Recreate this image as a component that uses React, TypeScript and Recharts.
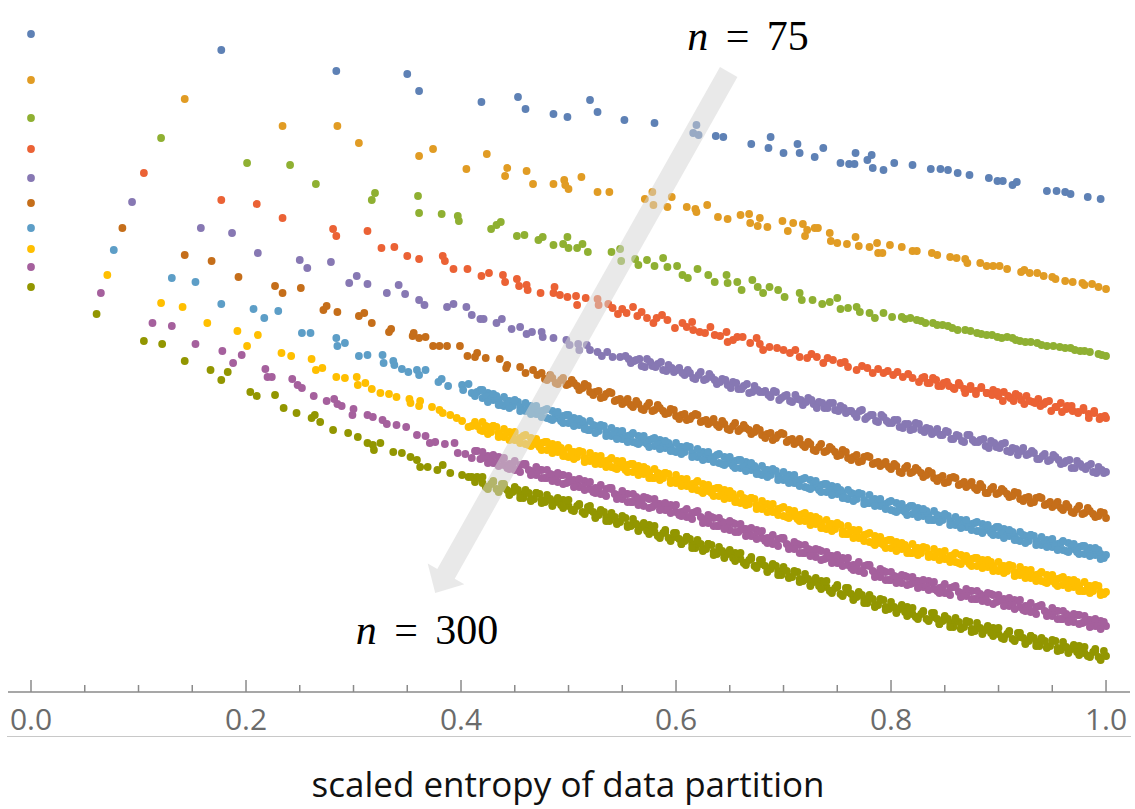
import React from 'react';
import { ScatterChart, Scatter, XAxis, YAxis, ReferenceLine } from 'recharts';

type Pt = [number, number];

const xTicks = [0, 0.05, 0.1, 0.15, 0.2, 0.25, 0.3, 0.35, 0.4, 0.45, 0.5, 0.55, 0.6, 0.65, 0.7, 0.75, 0.8, 0.85, 0.9, 0.95, 1];
const xDomain: [number, number] = [-0.0214, 1.0223];
const yDomain: [number, number] = [0, 69.2];

const seriesNames = ['n=75', 'n=100', 'n=125', 'n=150', 'n=175', 'n=200', 'n=225', 'n=250', 'n=275', 'n=300'];
const colors = ['#5E81B5', '#E19C24', '#8FB032', '#EB6235', '#8778B3', '#C56E1A', '#5D9EC7', '#FFBF00', '#A5609D', '#929600'];

// arrow annotation: tail and tip in data units
const arrowTail: Pt = [0.649, 62.0];
const arrowTip: Pt = [0.376, 9.9];

const n75: Pt[] = [
  [0, 65.8], [0.177, 64.2], [0.284, 62.1], [0.350, 61.8], [0.361, 60.1], [0.419, 59.0], [0.453, 59.5], [0.460, 58.3],
  [0.486, 57.8], [0.499, 57.5], [0.520, 59.2], [0.527, 58.0], [0.552, 57.2], [0.580, 56.9], [0.616, 55.9], [0.619, 56.7],
  [0.621, 55.7], [0.637, 55.6], [0.644, 55.5], [0.670, 54.8], [0.686, 54.4], [0.688, 55.5], [0.700, 53.9], [0.713, 54.8],
  [0.715, 53.9], [0.729, 53.5], [0.737, 54.4], [0.753, 52.9], [0.761, 52.8], [0.766, 52.8], [0.767, 53.9], [0.778, 53.2],
  [0.782, 53.7], [0.783, 52.4], [0.793, 52.2], [0.803, 52.9], [0.820, 52.7], [0.837, 52.3], [0.846, 52.3], [0.853, 52.2],
  [0.862, 51.9], [0.873, 51.7], [0.891, 51.4], [0.899, 51.1], [0.904, 51.1], [0.913, 50.7], [0.917, 51.0], [0.945, 50.1],
  [0.954, 50.1], [0.962, 50.0], [0.967, 49.8], [0.983, 49.5], [0.995, 49.3],
];

const n100: Pt[] = [
  [0, 61.2], [0.143, 59.3], [0.234, 56.6], [0.285, 56.6], [0.305, 54.9], [0.361, 53.6], [0.374, 54.3], [0.405, 52.3],
  [0.424, 53.8], [0.441, 51.6], [0.443, 52.4], [0.461, 52.1], [0.467, 50.8], [0.486, 50.8], [0.496, 51.2], [0.497, 50.7],
  [0.500, 50.3], [0.512, 51.5], [0.527, 50.0], [0.538, 50.0], [0.571, 49.3], [0.578, 50.0], [0.579, 48.7], [0.592, 48.5],
  [0.596, 49.5], [0.610, 48.5], [0.618, 48.3], [0.619, 48.0], [0.629, 48.7], [0.639, 47.5], [0.648, 47.3], [0.660, 47.7],
  [0.668, 47.8], [0.669, 46.9], [0.676, 46.6], [0.678, 47.4], [0.685, 46.5], [0.699, 47.1], [0.704, 46.1], [0.709, 46.9],
  [0.718, 46.8], [0.720, 45.6], [0.722, 46.2], [0.729, 46.4], [0.732, 46.4], [0.743, 45.9], [0.744, 45.1], [0.750, 44.9],
  [0.759, 44.8], [0.767, 45.5], [0.770, 44.6], [0.780, 44.5], [0.787, 44.9], [0.788, 43.9], [0.792, 43.9], [0.799, 44.7],
  [0.810, 44.5], [0.820, 44.1], [0.824, 44.1], [0.838, 43.9], [0.843, 43.7], [0.855, 43.5], [0.861, 43.4], [0.869, 43.3],
  [0.871, 42.9], [0.883, 42.9], [0.889, 42.6], [0.895, 42.6], [0.901, 42.6], [0.908, 42.3], [0.921, 42.0], [0.924, 42.2],
  [0.929, 41.9], [0.936, 41.9], [0.942, 41.6], [0.950, 41.5], [0.953, 41.3], [0.962, 41.1], [0.969, 41.0], [0.978, 40.9],
  [0.980, 40.7], [0.987, 40.8], [0.993, 40.5], [1.0, 40.3],
];

const n125: Pt[] = [
  [0, 57.4], [0.121, 55.4], [0.201, 52.9], [0.241, 52.7], [0.265, 50.8], [0.317, 49.2], [0.320, 49.9], [0.360, 49.6],
  [0.361, 47.9], [0.382, 47.8], [0.397, 47.6], [0.398, 47.1], [0.428, 46.3], [0.433, 46.7], [0.437, 47.0], [0.452, 45.6],
  [0.459, 45.7], [0.472, 45.2], [0.476, 45.5], [0.486, 44.7], [0.495, 44.8], [0.499, 45.5], [0.500, 44.4], [0.508, 44.4],
  [0.513, 44.8], [0.518, 44.0], [0.540, 44.0], [0.548, 44.3], [0.549, 43.1], [0.562, 43.3], [0.565, 42.7], [0.573, 43.2],
  [0.580, 42.6], [0.588, 43.4], [0.592, 42.5], [0.601, 42.6], [0.606, 41.7], [0.611, 41.4], [0.620, 42.3], [0.630, 41.7],
  [0.636, 41.0], [0.647, 41.7], [0.648, 40.9], [0.657, 41.0], [0.661, 40.2], [0.671, 41.2], [0.676, 40.5], [0.681, 39.9],
  [0.687, 40.5], [0.695, 40.2], [0.701, 39.5], [0.715, 39.9], [0.717, 39.2], [0.727, 39.2], [0.736, 38.8], [0.743, 39.0],
  [0.750, 39.4], [0.753, 38.3], [0.760, 38.4], [0.768, 38.5], [0.771, 38.0], [0.780, 37.9], [0.785, 37.4], [0.793, 37.9],
  [0.801, 37.5], [0.810, 37.5], [0.813, 37.3], [0.818, 37.4], [0.824, 37.2], [0.828, 37.1], [0.832, 36.9], [0.839, 36.9],
  [0.843, 36.7], [0.848, 36.7], [0.853, 36.6], [0.857, 36.4], [0.862, 36.2], [0.869, 36.2], [0.874, 36.1], [0.880, 35.9],
  [0.884, 35.8], [0.889, 35.7], [0.894, 35.7], [0.899, 35.5], [0.903, 35.4], [0.908, 35.5], [0.913, 35.4], [0.916, 35.2],
  [0.920, 35.1], [0.925, 35.0], [0.930, 35.0], [0.936, 34.9], [0.940, 34.7], [0.945, 34.6], [0.951, 34.6], [0.957, 34.5],
  [0.962, 34.4], [0.967, 34.4], [0.971, 34.2], [0.976, 34.1], [0.980, 34.1], [0.985, 34.0], [0.993, 33.8], [0.996, 33.7],
  [1.0, 33.6],
];

const n150: Pt[] = [
  [0, 54.3], [0.105, 51.9], [0.177, 49.2], [0.210, 48.8], [0.234, 47.4], [0.281, 46.3], [0.284, 45.6], [0.313, 46.1],
  [0.326, 44.4], [0.338, 44.5], [0.350, 43.6], [0.361, 43.3], [0.383, 43.6], [0.385, 43.1], [0.393, 42.3], [0.406, 42.3],
  [0.419, 41.6], [0.426, 41.9], [0.439, 41.7], [0.441, 41.0], [0.452, 41.3], [0.454, 40.6], [0.461, 40.7], [0.462, 40.2],
  [0.474, 39.9], [0.487, 40.5], [0.486, 39.9], [0.492, 39.7], [0.499, 39.5], [0.507, 39.6], [0.508, 38.7], [0.516, 39.4],
  [0.527, 39.3], [0.528, 38.7], [0.537, 38.8], [0.541, 38.4], [0.546, 37.8], [0.550, 38.3], [0.554, 37.9], [0.560, 38.5],
  [0.564, 37.6], [0.568, 38.0], [0.573, 37.4], [0.579, 36.9], [0.582, 37.4], [0.587, 37.7], [0.592, 37.2], [0.599, 36.4],
  [0.606, 36.9], [0.610, 36.5], [0.615, 37.0], [0.616, 36.2], [0.622, 36.0], [0.627, 35.9], [0.632, 36.5], [0.636, 35.7],
  [0.641, 35.6], [0.647, 36.0], [0.648, 35.0], [0.653, 35.2], [0.657, 35.5], [0.662, 35.5], [0.669, 34.9], [0.675, 35.4],
  [0.678, 34.8], [0.681, 34.2], [0.687, 34.5], [0.694, 34.4], [0.700, 34.2], [0.706, 33.9], [0.711, 34.2], [0.715, 33.5],
  [0.722, 33.4], [0.726, 33.8], [0.731, 33.5], [0.737, 32.9], [0.741, 33.4], [0.746, 33.2], [0.753, 32.9], [0.757, 33.0],
  [0.760, 32.5], [0.768, 32.2], [0.773, 32.6], [0.778, 32.4], [0.783, 31.9], [0.788, 32.3], [0.793, 31.9], [0.797, 32.1],
  [0.802, 31.7], [0.806, 32.0], [0.811, 31.5], [0.816, 31.8], [0.820, 31.4], [0.826, 31.0], [0.831, 31.5], [0.836, 30.9],
  [0.842, 31.2], [0.847, 30.6], [0.852, 31.0], [0.858, 30.4], [0.863, 30.9], [0.868, 30.3], [0.874, 30.6], [0.879, 30.1],
  [0.884, 30.5], [0.889, 29.9], [0.895, 30.2], [0.900, 29.6], [0.905, 30.0], [0.911, 29.4], [0.916, 29.8], [0.921, 29.2],
  [0.926, 29.6], [0.932, 29.0], [0.937, 29.3], [0.942, 28.8], [0.947, 29.1], [0.953, 28.5], [0.958, 28.9], [0.963, 28.3],
  [0.968, 28.6], [0.974, 28.0], [0.979, 28.4], [0.984, 27.8], [0.989, 28.1], [0.995, 27.5], [1.0, 27.4],
];

const n150b: Pt[] = [
  [0.829, 31.4], [0.834, 30.9], [0.839, 31.4], [0.844, 30.6], [0.849, 30.9], [0.854, 30.6], [0.859, 30.3], [0.864, 30.7],
  [0.869, 29.9], [0.874, 30.3], [0.879, 29.8], [0.884, 30.4], [0.889, 29.9], [0.894, 29.7], [0.899, 30.0], [0.904, 29.1],
  [0.909, 29.6], [0.914, 29.1], [0.919, 29.6], [0.924, 28.8], [0.929, 29.1], [0.934, 28.9], [0.939, 28.6], [0.944, 29.0],
  [0.949, 28.1], [0.954, 28.5], [0.959, 28.0], [0.964, 28.6], [0.969, 28.1], [0.974, 27.9], [0.979, 28.2], [0.984, 27.4],
  [0.989, 27.9], [0.994, 27.3], [0.999, 27.6],
];

const n175: Pt[] = [
  [0, 51.4], [0.094, 49.0], [0.158, 46.4], [0.187, 45.9], [0.211, 43.9], [0.250, 43.2], [0.257, 42.4], [0.279, 43.0],
  [0.296, 40.9], [0.303, 41.6], [0.313, 40.8], [0.331, 39.9], [0.342, 40.7], [0.348, 39.8], [0.361, 39.2], [0.366, 38.7],
  [0.387, 38.5], [0.393, 38.8], [0.405, 38.5], [0.410, 37.7], [0.418, 37.3], [0.421, 37.3], [0.433, 36.9], [0.438, 37.3],
  [0.447, 36.3], [0.455, 36.5], [0.461, 35.8], [0.466, 36.0], [0.475, 36.0], [0.476, 35.5], [0.486, 35.4], [0.498, 35.2],
  [0.501, 34.7], [0.509, 34.8], [0.510, 34.2], [0.517, 34.7], [0.520, 34.2], [0.527, 34.0], [0.531, 33.6], [0.536, 34.0],
  [0.541, 33.5], [0.548, 33.5], [0.553, 33.6], [0.558, 32.9], [0.563, 33.2], [0.568, 32.6], [0.573, 33.3], [0.578, 32.6],
  [0.583, 32.8], [0.588, 32.2], [0.593, 32.7], [0.598, 32.0], [0.603, 32.4], [0.608, 31.7], [0.613, 31.9], [0.618, 31.3],
  [0.623, 32.0], [0.628, 31.3], [0.633, 31.5], [0.638, 30.8], [0.643, 31.3], [0.648, 30.7], [0.653, 31.0], [0.658, 30.3],
  [0.663, 30.6], [0.668, 29.9], [0.673, 30.6], [0.678, 30.0], [0.683, 30.1], [0.688, 29.5], [0.693, 30.0], [0.698, 29.4],
  [0.703, 29.7], [0.708, 29.0], [0.713, 29.3], [0.718, 28.7], [0.723, 29.4], [0.728, 28.8], [0.733, 29.0], [0.738, 28.4],
  [0.743, 28.9], [0.748, 28.2], [0.753, 28.6], [0.758, 27.9], [0.763, 28.1], [0.768, 27.5], [0.773, 28.2], [0.778, 27.5],
  [0.783, 27.7], [0.788, 27.0], [0.793, 27.5], [0.798, 26.9], [0.803, 27.2], [0.808, 26.5], [0.813, 26.8], [0.818, 26.2],
  [0.823, 26.9], [0.828, 26.2], [0.833, 26.4], [0.838, 25.8], [0.843, 26.3], [0.848, 25.7], [0.853, 26.0], [0.858, 25.3],
  [0.863, 25.6], [0.868, 25.0], [0.873, 25.7], [0.878, 25.0], [0.883, 25.2], [0.888, 24.6], [0.893, 25.1], [0.898, 24.5],
  [0.903, 24.8], [0.908, 24.1], [0.913, 24.4], [0.918, 23.7], [0.923, 24.4], [0.928, 23.8], [0.933, 23.9], [0.938, 23.3],
  [0.943, 23.8], [0.948, 23.2], [0.953, 23.5], [0.958, 22.8], [0.963, 23.1], [0.968, 22.4], [0.973, 23.1], [0.978, 22.5],
  [0.983, 22.6], [0.988, 22.0], [0.993, 22.5], [0.998, 21.9], [1.0, 22.0],
];

const n175b: Pt[] = [
  [0.556, 33.3], [0.561, 33.1], [0.566, 33.3], [0.571, 32.5], [0.576, 33.0], [0.581, 32.5], [0.586, 33.0], [0.591, 32.1],
  [0.596, 32.4], [0.601, 32.2], [0.606, 31.9], [0.611, 32.2], [0.616, 31.4], [0.621, 31.7], [0.626, 31.2], [0.631, 31.8],
  [0.636, 31.2], [0.641, 31.0], [0.646, 31.2], [0.651, 30.4], [0.656, 30.9], [0.661, 30.3], [0.666, 30.8], [0.671, 30.0],
  [0.676, 30.2], [0.681, 30.0], [0.686, 29.7], [0.691, 30.1], [0.696, 29.2], [0.701, 29.6], [0.706, 29.1], [0.711, 29.7],
  [0.716, 29.2], [0.721, 29.0], [0.726, 29.2], [0.731, 28.4], [0.736, 28.9], [0.741, 28.4], [0.746, 28.9], [0.751, 28.1],
  [0.756, 28.4], [0.761, 28.1], [0.766, 27.8], [0.771, 28.1], [0.776, 27.3], [0.781, 27.7], [0.786, 27.1], [0.791, 27.7],
  [0.796, 27.1], [0.801, 26.9], [0.806, 27.2], [0.811, 26.4], [0.816, 26.8], [0.821, 26.3], [0.826, 26.8], [0.831, 26.0],
  [0.836, 26.3], [0.841, 26.0], [0.846, 25.7], [0.851, 26.1], [0.856, 25.3], [0.861, 25.7], [0.866, 25.1], [0.871, 25.7],
  [0.876, 25.2], [0.881, 25.0], [0.886, 25.3], [0.891, 24.4], [0.896, 24.9], [0.901, 24.4], [0.906, 24.9], [0.911, 24.0],
  [0.916, 24.3], [0.921, 24.1], [0.926, 23.7], [0.931, 24.1], [0.936, 23.3], [0.941, 23.6], [0.946, 23.1], [0.951, 23.7],
  [0.956, 23.2], [0.961, 22.9], [0.966, 23.2], [0.971, 22.4], [0.976, 22.8], [0.981, 22.3], [0.986, 22.8], [0.991, 21.9],
  [0.996, 22.2],
];

const n200: Pt[] = [
  [0, 48.9], [0.085, 46.4], [0.143, 43.7], [0.168, 43.1], [0.193, 41.5], [0.227, 40.6], [0.234, 39.9], [0.251, 40.4],
  [0.272, 38.2], [0.275, 38.6], [0.285, 38.0], [0.305, 37.6], [0.310, 37.9], [0.317, 36.9], [0.333, 36.0], [0.335, 36.3],
  [0.355, 35.6], [0.356, 35.9], [0.361, 35.4], [0.367, 35.5], [0.374, 34.6], [0.380, 34.6], [0.387, 34.6], [0.399, 34.6],
  [0.406, 33.6], [0.415, 33.9], [0.413, 33.5], [0.423, 33.4], [0.436, 33.3], [0.443, 32.7], [0.442, 32.4], [0.455, 32.5],
  [0.460, 31.9], [0.467, 32.2], [0.471, 31.7],
  [0.475, 31.9], [0.480, 31.2], [0.485, 31.4], [0.490, 30.8], [0.495, 31.4], [0.500, 30.8], [0.505, 30.9], [0.510, 30.2],
  [0.515, 30.8], [0.520, 30.0], [0.525, 30.0], [0.530, 29.4], [0.535, 29.8], [0.540, 29.9], [0.545, 29.2], [0.550, 28.8],
  [0.555, 29.3], [0.560, 28.5], [0.565, 28.8], [0.570, 28.2], [0.575, 28.9], [0.580, 28.2], [0.585, 28.4], [0.590, 27.8],
  [0.595, 28.3], [0.600, 27.6], [0.605, 27.7], [0.610, 27.2], [0.615, 27.6], [0.620, 27.7], [0.625, 27.1], [0.630, 26.8],
  [0.635, 27.3], [0.640, 26.5], [0.645, 26.8], [0.650, 26.2], [0.655, 26.9], [0.660, 26.3], [0.665, 26.4], [0.670, 25.8],
  [0.675, 26.4], [0.680, 25.7], [0.685, 25.8], [0.690, 25.2], [0.695, 25.7], [0.700, 25.8], [0.705, 25.2], [0.710, 24.8],
  [0.715, 25.3], [0.720, 24.5], [0.725, 24.8], [0.730, 24.1], [0.735, 24.8], [0.740, 24.1], [0.745, 24.3], [0.750, 23.6],
  [0.755, 24.2], [0.760, 23.4], [0.765, 23.5], [0.770, 23.0], [0.775, 23.5], [0.780, 23.5], [0.785, 22.9], [0.790, 22.6],
  [0.795, 23.0], [0.800, 22.3], [0.805, 22.6], [0.810, 21.9], [0.815, 22.6], [0.820, 22.0], [0.825, 22.2], [0.830, 21.5],
  [0.835, 22.1], [0.840, 21.4], [0.845, 21.4], [0.850, 20.9], [0.855, 21.4], [0.860, 21.4], [0.865, 20.8], [0.870, 20.5],
  [0.875, 21.0], [0.880, 20.2], [0.885, 20.5], [0.890, 19.9], [0.895, 20.5], [0.900, 19.9], [0.905, 20.1], [0.910, 19.5],
  [0.915, 20.0], [0.920, 19.3], [0.925, 19.4], [0.930, 18.9], [0.935, 19.4], [0.940, 19.4], [0.945, 18.8], [0.950, 18.5],
  [0.955, 19.0], [0.960, 18.2], [0.965, 18.5], [0.970, 17.9], [0.975, 18.6], [0.980, 17.9], [0.985, 18.1], [0.990, 17.5],
  [0.995, 18.0], [1.0, 17.4],
];

const n200b: Pt[] = [
  [0.478, 31.3], [0.483, 31.7], [0.488, 30.9], [0.493, 31.2], [0.498, 30.7], [0.503, 31.2], [0.508, 30.6], [0.513, 30.4],
  [0.518, 30.6], [0.523, 29.7], [0.528, 30.1], [0.533, 29.5], [0.538, 30.0], [0.543, 29.1], [0.548, 29.3], [0.553, 29.0],
  [0.558, 28.7], [0.563, 29.1], [0.568, 28.3], [0.573, 28.6], [0.578, 28.1], [0.583, 28.7], [0.588, 28.1], [0.593, 27.9],
  [0.598, 28.2], [0.603, 27.3], [0.608, 27.8], [0.613, 27.3], [0.618, 27.8], [0.623, 27.0], [0.628, 27.2], [0.633, 27.0],
  [0.638, 26.7], [0.643, 27.1], [0.648, 26.3], [0.653, 26.6], [0.658, 26.1], [0.663, 26.7], [0.668, 26.2], [0.673, 26.0],
  [0.678, 26.2], [0.683, 25.4], [0.688, 25.9], [0.693, 25.4], [0.698, 25.9], [0.703, 25.0], [0.708, 25.3], [0.713, 25.0],
  [0.718, 24.7], [0.723, 25.0], [0.728, 24.2], [0.733, 24.5], [0.738, 24.0], [0.743, 24.5], [0.748, 24.0], [0.753, 23.7],
  [0.758, 24.0], [0.763, 23.2], [0.768, 23.7], [0.773, 23.1], [0.778, 23.6], [0.783, 22.8], [0.788, 23.0], [0.793, 22.8],
  [0.798, 22.5], [0.803, 22.8], [0.808, 22.0], [0.813, 22.4], [0.818, 21.9], [0.823, 22.4], [0.828, 21.9], [0.833, 21.7],
  [0.838, 21.9], [0.843, 21.1], [0.848, 21.6], [0.853, 21.0], [0.858, 21.5], [0.863, 20.7], [0.868, 21.0], [0.873, 20.7],
  [0.878, 20.4], [0.883, 20.8], [0.888, 19.9], [0.893, 20.3], [0.898, 19.8], [0.903, 20.3], [0.908, 19.8], [0.913, 19.6],
  [0.918, 19.9], [0.923, 19.1], [0.928, 19.5], [0.933, 19.0], [0.938, 19.5], [0.943, 18.7], [0.948, 19.0], [0.953, 18.7],
  [0.958, 18.4], [0.963, 18.8], [0.968, 18.0], [0.973, 18.3], [0.978, 17.8], [0.983, 18.4], [0.988, 17.8], [0.993, 17.6],
  [0.998, 17.9],
];

const n225: Pt[] = [
  [0, 46.4], [0.077, 44.2], [0.131, 41.4], [0.153, 41.0], [0.177, 38.8], [0.207, 38.3], [0.217, 37.4], [0.230, 38.1],
  [0.252, 35.9], [0.260, 35.9], [0.284, 35.4], [0.285, 34.6], [0.292, 34.9], [0.305, 33.6], [0.313, 33.7], [0.327, 33.7],
  [0.328, 32.9], [0.337, 33.1], [0.338, 32.7], [0.345, 32.3], [0.351, 32.0], [0.359, 32.2], [0.367, 32.2], [0.361, 31.7],
  [0.379, 31.0], [0.382, 31.3], [0.388, 30.6], [0.401, 30.7], [0.402, 30.2], [0.407, 30.8],
  [0.410, 29.9], [0.415, 30.0], [0.420, 29.4], [0.425, 29.9], [0.430, 29.2], [0.435, 29.2], [0.440, 28.6], [0.445, 29.1],
  [0.450, 29.1], [0.455, 28.5], [0.460, 28.1], [0.465, 28.6], [0.470, 27.8], [0.475, 28.1], [0.480, 27.4], [0.485, 28.1],
  [0.490, 27.4], [0.495, 27.6], [0.500, 26.9], [0.505, 27.4], [0.510, 26.7], [0.515, 26.7], [0.520, 26.2], [0.525, 26.6],
  [0.530, 26.6], [0.535, 26.0], [0.540, 25.6], [0.545, 26.1], [0.550, 25.3], [0.555, 25.6], [0.560, 25.0], [0.565, 25.6],
  [0.570, 25.0], [0.575, 25.2], [0.580, 24.6], [0.585, 25.2], [0.590, 24.4], [0.595, 24.5], [0.600, 24.0], [0.605, 24.5],
  [0.610, 24.5], [0.615, 23.9], [0.620, 23.5], [0.625, 24.0], [0.630, 23.3], [0.635, 23.5], [0.640, 22.9], [0.645, 23.5],
  [0.650, 22.9], [0.655, 23.1], [0.660, 22.4], [0.665, 23.0], [0.670, 22.2], [0.675, 22.3], [0.680, 21.7], [0.685, 22.2],
  [0.690, 22.2], [0.695, 21.6], [0.700, 21.2], [0.705, 21.7], [0.710, 20.9], [0.715, 21.2], [0.720, 20.5], [0.725, 21.2],
  [0.730, 20.5], [0.735, 20.7], [0.740, 20.0], [0.745, 20.6], [0.750, 19.8], [0.755, 19.9], [0.760, 19.3], [0.765, 19.8],
  [0.770, 19.8], [0.775, 19.2], [0.780, 18.9], [0.785, 19.3], [0.790, 18.6], [0.795, 18.8], [0.800, 18.2], [0.805, 18.9],
  [0.810, 18.2], [0.815, 18.4], [0.820, 17.8], [0.825, 18.4], [0.830, 17.6], [0.835, 17.7], [0.840, 17.2], [0.845, 17.6],
  [0.850, 17.7], [0.855, 17.1], [0.860, 16.7], [0.865, 17.2], [0.870, 16.5], [0.875, 16.8], [0.880, 16.1], [0.885, 16.8],
  [0.890, 16.2], [0.895, 16.3], [0.900, 15.7], [0.905, 16.3], [0.910, 15.6], [0.915, 15.6], [0.920, 15.1], [0.925, 15.6],
  [0.930, 15.7], [0.935, 15.1], [0.940, 14.7], [0.945, 15.2], [0.950, 14.5], [0.955, 14.8], [0.960, 14.2], [0.965, 14.9],
  [0.970, 14.3], [0.975, 14.5], [0.980, 13.8], [0.985, 14.4], [0.990, 13.7], [0.995, 13.8], [1.0, 13.7],
];

const n225b: Pt[] = [
  [0.413, 29.6], [0.418, 30.2], [0.423, 29.6], [0.428, 29.3], [0.433, 29.6], [0.438, 28.7], [0.443, 29.1], [0.448, 28.6],
  [0.453, 29.0], [0.458, 28.2], [0.463, 28.4], [0.468, 28.2], [0.473, 27.8], [0.478, 28.2], [0.483, 27.3], [0.488, 27.7],
  [0.493, 27.1], [0.498, 27.7], [0.503, 27.1], [0.508, 26.9], [0.513, 27.1], [0.518, 26.2], [0.523, 26.7], [0.528, 26.1],
  [0.533, 26.6], [0.538, 25.7], [0.543, 25.9], [0.548, 25.7], [0.553, 25.3], [0.558, 25.7], [0.563, 24.9], [0.568, 25.3],
  [0.573, 24.8], [0.578, 25.3], [0.583, 24.8], [0.588, 24.6], [0.593, 24.9], [0.598, 24.1], [0.603, 24.5], [0.608, 24.0],
  [0.613, 24.5], [0.618, 23.6], [0.623, 23.9], [0.628, 23.6], [0.633, 23.3], [0.638, 23.7], [0.643, 22.8], [0.648, 23.2],
  [0.653, 22.6], [0.658, 23.2], [0.663, 22.6], [0.668, 22.4], [0.673, 22.6], [0.678, 21.8], [0.683, 22.2], [0.688, 21.7],
  [0.693, 22.1], [0.698, 21.3], [0.703, 21.5], [0.708, 21.3], [0.713, 20.9], [0.718, 21.3], [0.723, 20.4], [0.728, 20.8],
  [0.733, 20.2], [0.738, 20.8], [0.743, 20.2], [0.748, 20.0], [0.753, 20.2], [0.758, 19.4], [0.763, 19.9], [0.768, 19.3],
  [0.773, 19.8], [0.778, 18.9], [0.783, 19.2], [0.788, 19.0], [0.793, 18.6], [0.798, 19.0], [0.803, 18.1], [0.808, 18.5],
  [0.813, 18.0], [0.818, 18.6], [0.823, 18.0], [0.828, 17.8], [0.833, 18.1], [0.838, 17.2], [0.843, 17.7], [0.848, 17.2],
  [0.853, 17.6], [0.858, 16.8], [0.863, 17.1], [0.868, 16.9], [0.873, 16.5], [0.878, 16.9], [0.883, 16.1], [0.888, 16.4],
  [0.893, 15.9], [0.898, 16.5], [0.903, 15.9], [0.908, 15.7], [0.913, 16.0], [0.918, 15.2], [0.923, 15.7], [0.928, 15.1],
  [0.933, 15.6], [0.938, 14.8], [0.943, 15.1], [0.948, 14.9], [0.953, 14.6], [0.958, 14.9], [0.963, 14.1], [0.968, 14.5],
  [0.973, 14.0], [0.978, 14.6], [0.983, 14.1], [0.988, 13.9], [0.993, 14.2], [0.998, 13.4],
];

// outer edge points of the n=225 band
const n225c: Pt[] = [
  [0.42, 30.2], [0.43, 29.8], [0.44, 29.5], [0.45, 29.2], [0.46, 28.9], [0.47, 28.6], [0.48, 28.3], [0.49, 28.0],
  [0.50, 27.7], [0.51, 27.3], [0.52, 27.1], [0.53, 26.7], [0.54, 26.4], [0.55, 26.1], [0.56, 25.9], [0.57, 25.6],
  [0.58, 25.4], [0.59, 25.1], [0.60, 24.9], [0.61, 24.6], [0.62, 24.3], [0.63, 24.0], [0.64, 23.8], [0.65, 23.5],
  [0.66, 23.2], [0.67, 22.9], [0.68, 22.6], [0.69, 22.3], [0.70, 22.0], [0.71, 21.7], [0.72, 21.4], [0.73, 21.1],
  [0.74, 20.8], [0.75, 20.5], [0.76, 20.2], [0.77, 19.9], [0.78, 19.7], [0.79, 19.3], [0.80, 19.1], [0.81, 18.8],
  [0.82, 18.6], [0.83, 18.3], [0.84, 18.1], [0.85, 17.8], [0.86, 17.5], [0.87, 17.2], [0.88, 17.0], [0.89, 16.7],
  [0.90, 16.5], [0.91, 16.2], [0.92, 16.0], [0.93, 15.7], [0.94, 15.5], [0.95, 15.3], [0.96, 15.1], [0.97, 14.8],
  [0.98, 14.6], [0.99, 14.4],
  [0.425, 29.0], [0.435, 28.7], [0.445, 28.4], [0.455, 28.1], [0.465, 27.8], [0.475, 27.5], [0.485, 27.2], [0.495, 26.9],
  [0.505, 26.6], [0.515, 26.3], [0.525, 25.9], [0.535, 25.6], [0.545, 25.3], [0.555, 25.0], [0.565, 24.8], [0.575, 24.5],
  [0.585, 24.3], [0.595, 24.1], [0.605, 23.8], [0.615, 23.5], [0.625, 23.2], [0.635, 23.0], [0.645, 22.7], [0.655, 22.4],
  [0.665, 22.1], [0.675, 21.8], [0.685, 21.5], [0.695, 21.2], [0.705, 20.9], [0.715, 20.6], [0.725, 20.3], [0.735, 20.0],
  [0.745, 19.7], [0.755, 19.4], [0.765, 19.1], [0.775, 18.8], [0.785, 18.6], [0.795, 18.3], [0.805, 18.0], [0.815, 17.7],
  [0.825, 17.5], [0.835, 17.2], [0.845, 17.0], [0.855, 16.7], [0.865, 16.4], [0.875, 16.2], [0.885, 15.9], [0.895, 15.7],
  [0.905, 15.4], [0.915, 15.2], [0.925, 14.9], [0.935, 14.7], [0.945, 14.5], [0.955, 14.2], [0.965, 14.0], [0.975, 13.8],
  [0.985, 13.6], [0.995, 13.3],
];

const n250: Pt[] = [
  [0, 44.3], [0.071, 41.7], [0.121, 38.9], [0.141, 38.5], [0.164, 36.9], [0.192, 36.1], [0.201, 34.6], [0.211, 35.7],
  [0.233, 33.9], [0.242, 33.6], [0.261, 33.3], [0.265, 32.2], [0.271, 32.4], [0.284, 31.5], [0.292, 31.4], [0.303, 31.5],
  [0.304, 30.7], [0.311, 30.9], [0.317, 30.3], [0.325, 29.9], [0.333, 29.8], [0.340, 29.5], [0.352, 29.3], [0.353, 28.9],
  [0.361, 28.6], [0.362, 29.1], [0.373, 28.5], [0.380, 28.2], [0.383, 27.9], [0.390, 27.7], [0.396, 27.4], [0.401, 27.1],
  [0.407, 26.5],
  [0.410, 26.6], [0.415, 26.6], [0.420, 26.1], [0.425, 26.5], [0.430, 26.6], [0.435, 25.9], [0.440, 25.5], [0.445, 26.0],
  [0.450, 25.2], [0.455, 25.4], [0.460, 24.8], [0.465, 25.4], [0.470, 24.8], [0.475, 24.9], [0.480, 24.2], [0.485, 24.8],
  [0.490, 24.0], [0.495, 24.1], [0.500, 23.5], [0.505, 24.0], [0.510, 24.0], [0.515, 23.4], [0.520, 23.1], [0.525, 23.6],
  [0.530, 22.8], [0.535, 23.1], [0.540, 22.5], [0.545, 23.1], [0.550, 22.5], [0.555, 22.7], [0.560, 22.0], [0.565, 22.6],
  [0.570, 21.8], [0.575, 21.9], [0.580, 21.4], [0.585, 21.8], [0.590, 21.9], [0.595, 21.2], [0.600, 20.9], [0.605, 21.3],
  [0.610, 20.6], [0.615, 20.8], [0.620, 20.2], [0.625, 20.8], [0.630, 20.1], [0.635, 20.3], [0.640, 19.6], [0.645, 20.2],
  [0.650, 19.4], [0.655, 19.4], [0.660, 18.9], [0.665, 19.3], [0.670, 19.4], [0.675, 18.7], [0.680, 18.3], [0.685, 18.8],
  [0.690, 18.0], [0.695, 18.3], [0.700, 17.6], [0.705, 18.2], [0.710, 17.6], [0.715, 17.7], [0.720, 17.1], [0.725, 17.6],
  [0.730, 16.8], [0.735, 16.9], [0.740, 16.3], [0.745, 16.8], [0.750, 16.8], [0.755, 16.1], [0.760, 15.8], [0.765, 16.2],
  [0.770, 15.4], [0.775, 15.7], [0.780, 15.0], [0.785, 15.6], [0.790, 14.9], [0.795, 15.1], [0.800, 14.4], [0.805, 15.0],
  [0.810, 14.3], [0.815, 14.4], [0.820, 13.9], [0.825, 14.4], [0.830, 14.4], [0.835, 13.8], [0.840, 13.5], [0.845, 14.0],
  [0.850, 13.3], [0.855, 13.6], [0.860, 13.0], [0.865, 13.7], [0.870, 13.1], [0.875, 13.3], [0.880, 12.6], [0.885, 13.2],
  [0.890, 12.5], [0.895, 12.6], [0.900, 12.1], [0.905, 12.6], [0.910, 12.6], [0.915, 12.0], [0.920, 11.7], [0.925, 12.2],
  [0.930, 11.4], [0.935, 11.7], [0.940, 11.1], [0.945, 11.7], [0.950, 11.1], [0.955, 11.3], [0.960, 10.7], [0.965, 11.2],
  [0.970, 10.5], [0.975, 10.6], [0.980, 10.1], [0.985, 10.6], [0.990, 10.6], [0.995, 10.0], [1.0, 10.0],
];

const n250b: Pt[] = [
  [0.413, 27.0], [0.418, 26.2], [0.423, 26.6], [0.428, 26.0], [0.433, 26.5], [0.438, 25.6], [0.443, 25.9], [0.448, 25.6],
  [0.453, 25.2], [0.458, 25.6], [0.463, 24.7], [0.468, 25.0], [0.473, 24.5], [0.478, 25.0], [0.483, 24.5], [0.488, 24.2],
  [0.493, 24.4], [0.498, 23.6], [0.503, 24.0], [0.508, 23.5], [0.513, 24.0], [0.518, 23.2], [0.523, 23.4], [0.528, 23.2],
  [0.533, 22.9], [0.538, 23.2], [0.543, 22.4], [0.548, 22.8], [0.553, 22.2], [0.558, 22.8], [0.563, 22.3], [0.568, 22.0],
  [0.573, 22.3], [0.578, 21.4], [0.583, 21.9], [0.588, 21.4], [0.593, 21.8], [0.598, 21.0], [0.603, 21.2], [0.608, 21.0],
  [0.613, 20.6], [0.618, 20.9], [0.623, 20.1], [0.628, 20.4], [0.633, 19.9], [0.638, 20.4], [0.643, 19.8], [0.648, 19.6],
  [0.653, 19.8], [0.658, 19.0], [0.663, 19.4], [0.668, 18.8], [0.673, 19.3], [0.678, 18.4], [0.683, 18.7], [0.688, 18.4],
  [0.693, 18.0], [0.698, 18.4], [0.703, 17.5], [0.708, 17.9], [0.713, 17.3], [0.718, 17.8], [0.723, 17.3], [0.728, 17.0],
  [0.733, 17.3], [0.738, 16.4], [0.743, 16.8], [0.748, 16.3], [0.753, 16.7], [0.758, 15.8], [0.763, 16.1], [0.768, 15.8],
  [0.773, 15.4], [0.778, 15.8], [0.783, 14.9], [0.788, 15.2], [0.793, 14.7], [0.798, 15.2], [0.803, 14.6], [0.808, 14.4],
  [0.813, 14.7], [0.818, 13.9], [0.823, 14.4], [0.828, 13.9], [0.833, 14.4], [0.838, 13.6], [0.843, 13.9], [0.848, 13.7],
  [0.853, 13.3], [0.858, 13.7], [0.863, 12.9], [0.868, 13.3], [0.873, 12.8], [0.878, 13.4], [0.883, 12.9], [0.888, 12.7],
  [0.893, 13.0], [0.898, 12.2], [0.903, 12.6], [0.908, 12.1], [0.913, 12.6], [0.918, 11.8], [0.923, 12.0], [0.928, 11.8],
  [0.933, 11.5], [0.938, 11.8], [0.943, 11.0], [0.948, 11.4], [0.953, 10.8], [0.958, 11.4], [0.963, 10.9], [0.968, 10.7],
  [0.973, 11.0], [0.978, 10.1], [0.983, 10.6], [0.988, 10.1], [0.993, 10.6], [0.998, 9.8],
];

const n250c: Pt[] = [
  [0.42, 27.0], [0.43, 26.6], [0.44, 26.3], [0.45, 26.0], [0.46, 25.7], [0.47, 25.3], [0.48, 25.0], [0.49, 24.7],
  [0.50, 24.4], [0.51, 24.1], [0.52, 23.9], [0.53, 23.6], [0.54, 23.4], [0.55, 23.1], [0.56, 22.8], [0.57, 22.5],
  [0.58, 22.3], [0.59, 21.9], [0.60, 21.7], [0.61, 21.3], [0.62, 21.1], [0.63, 20.7], [0.64, 20.4], [0.65, 20.1],
  [0.66, 19.8], [0.67, 19.4], [0.68, 19.1], [0.69, 18.8], [0.70, 18.5], [0.71, 18.1], [0.72, 17.9], [0.73, 17.5],
  [0.74, 17.2], [0.75, 16.9], [0.76, 16.6], [0.77, 16.2], [0.78, 15.9], [0.79, 15.5], [0.80, 15.2], [0.81, 14.9],
  [0.82, 14.8], [0.83, 14.5], [0.84, 14.3], [0.85, 14.1], [0.86, 13.9], [0.87, 13.6], [0.88, 13.4], [0.89, 13.2],
  [0.90, 13.0], [0.91, 12.7], [0.92, 12.5], [0.93, 12.2], [0.94, 12.0], [0.95, 11.7], [0.96, 11.5], [0.97, 11.2],
  [0.98, 11.0], [0.99, 10.7],
  [0.425, 25.8], [0.435, 25.5], [0.445, 25.2], [0.455, 24.9], [0.465, 24.6], [0.475, 24.2], [0.485, 23.9], [0.495, 23.6],
  [0.505, 23.3], [0.515, 23.0], [0.525, 22.8], [0.535, 22.5], [0.545, 22.3], [0.555, 22.0], [0.565, 21.7], [0.575, 21.4],
  [0.585, 21.2], [0.595, 20.9], [0.605, 20.6], [0.615, 20.3], [0.625, 19.9], [0.635, 19.6], [0.645, 19.3], [0.655, 19.0],
  [0.665, 18.7], [0.675, 18.3], [0.685, 18.0], [0.695, 17.7], [0.705, 17.4], [0.715, 17.1], [0.725, 16.7], [0.735, 16.4],
  [0.745, 16.1], [0.755, 15.8], [0.765, 15.4], [0.775, 15.1], [0.785, 14.7], [0.795, 14.4], [0.805, 14.1], [0.815, 13.9],
  [0.825, 13.7], [0.835, 13.5], [0.845, 13.2], [0.855, 13.0], [0.865, 12.8], [0.875, 12.6], [0.885, 12.4], [0.895, 12.1],
  [0.905, 11.9], [0.915, 11.6], [0.925, 11.4], [0.935, 11.1], [0.945, 10.9], [0.955, 10.6], [0.965, 10.4], [0.975, 10.1],
  [0.985, 9.9], [0.995, 9.7],
];

const n275: Pt[] = [
  [0, 42.5], [0.065, 39.9], [0.113, 36.9], [0.131, 36.6], [0.153, 34.8], [0.178, 34.1], [0.188, 32.9], [0.196, 33.7],
  [0.218, 32.3], [0.220, 31.5], [0.224, 31.5], [0.243, 31.3], [0.248, 30.7], [0.252, 30.4], [0.263, 29.6], [0.275, 29.1],
  [0.282, 29.3], [0.285, 28.8], [0.289, 28.6], [0.300, 28.3], [0.299, 27.7], [0.313, 27.7], [0.318, 27.5], [0.327, 27.2],
  [0.331, 26.8], [0.340, 26.7], [0.349, 26.5], [0.359, 25.7], [0.367, 25.6], [0.371, 24.9], [0.376, 25.0], [0.385, 24.8],
  [0.394, 24.9], [0.397, 23.9], [0.404, 23.8],
  [0.410, 23.4], [0.415, 24.1], [0.420, 23.4], [0.425, 23.6], [0.430, 22.9], [0.435, 23.5], [0.440, 22.7], [0.445, 22.8],
  [0.450, 22.2], [0.455, 22.7], [0.460, 22.7], [0.465, 22.1], [0.470, 21.7], [0.475, 22.2], [0.480, 21.4], [0.485, 21.7],
  [0.490, 21.0], [0.495, 21.7], [0.500, 21.0], [0.505, 21.2], [0.510, 20.5], [0.515, 21.1], [0.520, 20.3], [0.525, 20.4],
  [0.530, 19.8], [0.535, 20.3], [0.540, 20.3], [0.545, 19.7], [0.550, 19.3], [0.555, 19.8], [0.560, 19.0], [0.565, 19.3],
  [0.570, 18.6], [0.575, 19.3], [0.580, 18.7], [0.585, 18.8], [0.590, 18.2], [0.595, 18.7], [0.600, 18.0], [0.605, 18.0],
  [0.610, 17.5], [0.615, 17.9], [0.620, 18.0], [0.625, 17.3], [0.630, 16.9], [0.635, 17.4], [0.640, 16.6], [0.645, 16.9],
  [0.650, 16.2], [0.655, 16.8], [0.660, 16.2], [0.665, 16.3], [0.670, 15.6], [0.675, 16.2], [0.680, 15.4], [0.685, 15.4],
  [0.690, 14.8], [0.695, 15.3], [0.700, 15.3], [0.705, 14.6], [0.710, 14.3], [0.715, 14.7], [0.720, 13.9], [0.725, 14.2],
  [0.730, 13.5], [0.735, 14.1], [0.740, 13.4], [0.745, 13.6], [0.750, 12.9], [0.755, 13.4], [0.760, 12.7], [0.765, 12.7],
  [0.770, 12.1], [0.775, 12.6], [0.780, 12.6], [0.785, 11.9], [0.790, 11.5], [0.795, 12.0], [0.800, 11.2], [0.805, 11.5],
  [0.810, 10.9], [0.815, 11.5], [0.820, 10.9], [0.825, 11.1], [0.830, 10.5], [0.835, 11.1], [0.840, 10.3], [0.845, 10.4],
  [0.850, 9.9], [0.855, 10.4], [0.860, 10.5], [0.865, 9.9], [0.870, 9.6], [0.875, 10.1], [0.880, 9.3], [0.885, 9.6],
  [0.890, 9.0], [0.895, 9.7], [0.900, 9.1], [0.905, 9.3], [0.910, 8.6], [0.915, 9.2], [0.920, 8.5], [0.925, 8.6],
  [0.930, 8.0], [0.935, 8.5], [0.940, 8.6], [0.945, 7.9], [0.950, 7.6], [0.955, 8.1], [0.960, 7.3], [0.965, 7.6],
  [0.970, 7.0], [0.975, 7.7], [0.980, 7.0], [0.985, 7.2], [0.990, 6.6], [0.995, 7.1], [1.0, 6.6],
];

const n275b: Pt[] = [
  [0.413, 24.1], [0.418, 23.3], [0.423, 23.5], [0.428, 23.3], [0.433, 22.9], [0.438, 23.3], [0.443, 22.4], [0.448, 22.8],
  [0.453, 22.2], [0.458, 22.8], [0.463, 22.2], [0.468, 22.0], [0.473, 22.2], [0.478, 21.4], [0.483, 21.8], [0.488, 21.3],
  [0.493, 21.7], [0.498, 20.9], [0.503, 21.1], [0.508, 20.9], [0.513, 20.5], [0.518, 20.9], [0.523, 20.0], [0.528, 20.4],
  [0.533, 19.8], [0.538, 20.4], [0.543, 19.8], [0.548, 19.6], [0.553, 19.8], [0.558, 19.0], [0.563, 19.5], [0.568, 18.9],
  [0.573, 19.4], [0.578, 18.5], [0.583, 18.8], [0.588, 18.6], [0.593, 18.2], [0.598, 18.6], [0.603, 17.7], [0.608, 18.1],
  [0.613, 17.5], [0.618, 18.0], [0.623, 17.5], [0.628, 17.2], [0.633, 17.5], [0.638, 16.6], [0.643, 17.0], [0.648, 16.5],
  [0.653, 16.9], [0.658, 16.0], [0.663, 16.3], [0.668, 16.0], [0.673, 15.6], [0.678, 16.0], [0.683, 15.1], [0.688, 15.4],
  [0.693, 14.9], [0.698, 15.4], [0.703, 14.8], [0.708, 14.5], [0.713, 14.8], [0.718, 13.9], [0.723, 14.3], [0.728, 13.8],
  [0.733, 14.2], [0.738, 13.3], [0.743, 13.6], [0.748, 13.3], [0.753, 12.9], [0.758, 13.3], [0.763, 12.4], [0.768, 12.7],
  [0.773, 12.1], [0.778, 12.7], [0.783, 12.1], [0.788, 11.8], [0.793, 12.1], [0.798, 11.2], [0.803, 11.6], [0.808, 11.1],
  [0.813, 11.6], [0.818, 10.8], [0.823, 11.1], [0.828, 10.8], [0.833, 10.5], [0.838, 10.9], [0.843, 10.1], [0.848, 10.5],
  [0.853, 9.9], [0.858, 10.5], [0.863, 10.0], [0.868, 9.8], [0.873, 10.1], [0.878, 9.3], [0.883, 9.8], [0.888, 9.3],
  [0.893, 9.8], [0.898, 9.0], [0.903, 9.2], [0.908, 9.0], [0.913, 8.7], [0.918, 9.1], [0.923, 8.2], [0.928, 8.6],
  [0.933, 8.1], [0.938, 8.6], [0.943, 8.1], [0.948, 7.9], [0.953, 8.1], [0.958, 7.3], [0.963, 7.8], [0.968, 7.3],
  [0.973, 7.7], [0.978, 6.9], [0.983, 7.2], [0.988, 6.9], [0.993, 6.6], [0.998, 7.0],
];

const n275c: Pt[] = [
  [0.42, 24.0], [0.43, 23.7], [0.44, 23.4], [0.45, 23.1], [0.46, 22.8], [0.47, 22.5], [0.48, 22.2], [0.49, 21.9],
  [0.50, 21.6], [0.51, 21.3], [0.52, 21.0], [0.53, 20.7], [0.54, 20.4], [0.55, 20.1], [0.56, 19.8], [0.57, 19.5],
  [0.58, 19.3], [0.59, 18.9], [0.60, 18.7], [0.61, 18.3], [0.62, 18.1], [0.63, 17.7], [0.64, 17.4], [0.65, 17.1],
  [0.66, 16.8], [0.67, 16.4], [0.68, 16.1], [0.69, 15.7], [0.70, 15.4], [0.71, 15.0], [0.72, 14.7], [0.73, 14.3],
  [0.74, 14.0], [0.75, 13.7], [0.76, 13.4], [0.77, 13.0], [0.78, 12.7], [0.79, 12.3], [0.80, 12.0], [0.81, 11.7],
  [0.82, 11.5], [0.83, 11.2], [0.84, 11.0], [0.85, 10.8], [0.86, 10.6], [0.87, 10.3], [0.88, 10.1], [0.89, 9.9],
  [0.90, 9.7], [0.91, 9.4], [0.92, 9.2], [0.93, 8.9], [0.94, 8.7], [0.95, 8.4], [0.96, 8.1], [0.97, 7.8],
  [0.98, 7.6], [0.99, 7.3],
  [0.425, 22.9], [0.435, 22.6], [0.445, 22.3], [0.455, 22.0], [0.465, 21.7], [0.475, 21.4], [0.485, 21.1], [0.495, 20.8],
  [0.505, 20.5], [0.515, 20.2], [0.525, 19.9], [0.535, 19.6], [0.545, 19.3], [0.555, 19.0], [0.565, 18.7], [0.575, 18.4],
  [0.585, 18.2], [0.595, 17.9], [0.605, 17.6], [0.615, 17.3], [0.625, 16.9], [0.635, 16.6], [0.645, 16.3], [0.655, 16.0],
  [0.665, 15.6], [0.675, 15.3], [0.685, 14.9], [0.695, 14.6], [0.705, 14.3], [0.715, 13.9], [0.725, 13.6], [0.735, 13.2],
  [0.745, 12.9], [0.755, 12.6], [0.765, 12.2], [0.775, 11.9], [0.785, 11.5], [0.795, 11.2], [0.805, 10.9], [0.815, 10.7],
  [0.825, 10.4], [0.835, 10.2], [0.845, 9.9], [0.855, 9.7], [0.865, 9.5], [0.875, 9.3], [0.885, 9.1], [0.895, 8.8],
  [0.905, 8.6], [0.915, 8.3], [0.925, 8.1], [0.935, 7.8], [0.945, 7.6], [0.955, 7.3], [0.965, 7.0], [0.975, 6.8],
  [0.985, 6.5], [0.995, 6.3],
];

const n300: Pt[] = [
  [0, 40.5], [0.061, 37.8], [0.105, 35.1], [0.122, 34.8], [0.143, 33.1], [0.167, 32.2], [0.177, 31.2], [0.183, 32.0],
  [0.204, 30.0], [0.210, 29.6], [0.227, 29.7], [0.235, 28.4], [0.247, 27.9], [0.261, 27.4], [0.264, 27.7], [0.269, 27.0],
  [0.281, 26.2], [0.295, 25.9], [0.304, 25.5], [0.313, 24.9], [0.318, 24.7], [0.325, 24.9], [0.319, 24.2], [0.337, 24.0],
  [0.345, 23.9], [0.353, 23.5], [0.359, 23.2], [0.362, 22.5], [0.369, 22.5], [0.378, 22.2], [0.383, 22.7], [0.390, 21.9],
  [0.401, 21.7], [0.407, 21.5],
  [0.410, 21.5], [0.415, 21.5], [0.420, 20.9], [0.425, 20.5], [0.430, 21.0], [0.435, 20.2], [0.440, 20.4], [0.445, 19.8],
  [0.450, 20.4], [0.455, 19.8], [0.460, 19.9], [0.465, 19.3], [0.470, 19.9], [0.475, 19.2], [0.480, 19.2], [0.485, 18.7],
  [0.490, 19.2], [0.495, 19.2], [0.500, 18.6], [0.505, 18.2], [0.510, 18.7], [0.515, 17.9], [0.520, 18.2], [0.525, 17.5],
  [0.530, 18.1], [0.535, 17.5], [0.540, 17.6], [0.545, 17.0], [0.550, 17.5], [0.555, 16.7], [0.560, 16.8], [0.565, 16.2],
  [0.570, 16.6], [0.575, 16.7], [0.580, 16.0], [0.585, 15.6], [0.590, 16.0], [0.595, 15.3], [0.600, 15.5], [0.605, 14.8],
  [0.610, 15.5], [0.615, 14.8], [0.620, 14.9], [0.625, 14.3], [0.630, 14.8], [0.635, 14.0], [0.640, 14.0], [0.645, 13.5],
  [0.650, 13.9], [0.655, 13.9], [0.660, 13.3], [0.665, 12.9], [0.670, 13.3], [0.675, 12.6], [0.680, 12.8], [0.685, 12.1],
  [0.690, 12.7], [0.695, 12.1], [0.700, 12.2], [0.705, 11.5], [0.710, 12.0], [0.715, 11.3], [0.720, 11.3], [0.725, 10.7],
  [0.730, 11.1], [0.735, 11.1], [0.740, 10.5], [0.745, 10.1], [0.750, 10.5], [0.755, 9.7], [0.760, 10.0], [0.765, 9.3],
  [0.770, 9.9], [0.775, 9.3], [0.780, 9.4], [0.785, 8.7], [0.790, 9.2], [0.795, 8.5], [0.800, 8.5], [0.805, 8.0],
  [0.810, 8.4], [0.815, 8.5], [0.820, 7.8], [0.825, 7.5], [0.830, 8.0], [0.835, 7.2], [0.840, 7.5], [0.845, 6.8],
  [0.850, 7.5], [0.855, 6.9], [0.860, 7.1], [0.865, 6.4], [0.870, 7.0], [0.875, 6.3], [0.880, 6.4], [0.885, 5.9],
  [0.890, 6.3], [0.895, 6.4], [0.900, 5.8], [0.905, 5.5], [0.910, 6.0], [0.915, 5.2], [0.920, 5.5], [0.925, 4.9],
  [0.930, 5.6], [0.935, 5.0], [0.940, 5.1], [0.945, 4.5], [0.950, 5.1], [0.955, 4.4], [0.960, 4.5], [0.965, 4.0],
  [0.970, 4.5], [0.975, 4.6], [0.980, 3.9], [0.985, 3.6], [0.990, 4.1], [0.995, 3.4], [1.0, 3.6],
];

const n300b: Pt[] = [
  [0.413, 21.0], [0.418, 21.4], [0.423, 20.5], [0.428, 20.8], [0.433, 20.3], [0.438, 20.8], [0.443, 20.2], [0.448, 20.0],
  [0.453, 20.2], [0.458, 19.4], [0.463, 19.9], [0.468, 19.3], [0.473, 19.8], [0.478, 19.0], [0.483, 19.3], [0.488, 19.0],
  [0.493, 18.7], [0.498, 19.1], [0.503, 18.2], [0.508, 18.6], [0.513, 18.0], [0.518, 18.5], [0.523, 18.0], [0.528, 17.7],
  [0.533, 18.0], [0.538, 17.1], [0.543, 17.5], [0.548, 17.0], [0.553, 17.4], [0.558, 16.6], [0.563, 16.8], [0.568, 16.5],
  [0.573, 16.1], [0.578, 16.5], [0.583, 15.6], [0.588, 15.9], [0.593, 15.4], [0.598, 15.9], [0.603, 15.3], [0.608, 15.1],
  [0.613, 15.3], [0.618, 14.4], [0.623, 14.8], [0.628, 14.3], [0.633, 14.7], [0.638, 13.8], [0.643, 14.1], [0.648, 13.8],
  [0.653, 13.4], [0.658, 13.8], [0.663, 12.9], [0.668, 13.2], [0.673, 12.6], [0.678, 13.2], [0.683, 12.6], [0.688, 12.3],
  [0.693, 12.6], [0.698, 11.7], [0.703, 12.1], [0.708, 11.5], [0.713, 12.0], [0.718, 11.1], [0.723, 11.3], [0.728, 11.0],
  [0.733, 10.6], [0.738, 11.0], [0.743, 10.1], [0.748, 10.4], [0.753, 9.8], [0.758, 10.4], [0.763, 9.8], [0.768, 9.5],
  [0.773, 9.7], [0.778, 8.9], [0.783, 9.3], [0.788, 8.7], [0.793, 9.2], [0.798, 8.3], [0.803, 8.5], [0.808, 8.3],
  [0.813, 8.0], [0.818, 8.3], [0.823, 7.5], [0.828, 7.8], [0.833, 7.3], [0.838, 7.9], [0.843, 7.3], [0.848, 7.1],
  [0.853, 7.3], [0.858, 6.5], [0.863, 7.0], [0.868, 6.5], [0.873, 7.0], [0.878, 6.1], [0.883, 6.4], [0.888, 6.2],
  [0.893, 5.9], [0.898, 6.3], [0.903, 5.4], [0.908, 5.8], [0.913, 5.3], [0.918, 5.9], [0.923, 5.4], [0.928, 5.1],
  [0.933, 5.4], [0.938, 4.6], [0.943, 5.1], [0.948, 4.6], [0.953, 5.1], [0.958, 4.2], [0.963, 4.5], [0.968, 4.3],
  [0.973, 4.0], [0.978, 4.4], [0.983, 3.6], [0.988, 4.0], [0.993, 3.5], [0.998, 4.1],
];

const n300c: Pt[] = [
  [0.42, 21.5], [0.43, 21.1], [0.44, 20.8], [0.45, 20.5], [0.46, 20.2], [0.47, 19.9], [0.48, 19.7], [0.49, 19.4],
  [0.50, 19.2], [0.51, 18.8], [0.52, 18.6], [0.53, 18.2], [0.54, 17.9], [0.55, 17.6], [0.56, 17.3], [0.57, 16.9],
  [0.58, 16.6], [0.59, 16.2], [0.60, 15.9], [0.61, 15.5], [0.62, 15.2], [0.63, 14.8], [0.64, 14.5], [0.65, 14.2],
  [0.66, 13.9], [0.67, 13.5], [0.68, 13.2], [0.69, 12.8], [0.70, 12.5], [0.71, 12.1], [0.72, 11.8], [0.73, 11.4],
  [0.74, 11.1], [0.75, 10.7], [0.76, 10.4], [0.77, 10.0], [0.78, 9.7], [0.79, 9.3], [0.80, 9.0], [0.81, 8.7],
  [0.82, 8.4], [0.83, 8.1], [0.84, 7.9], [0.85, 7.6], [0.86, 7.4], [0.87, 7.1], [0.88, 6.9], [0.89, 6.6],
  [0.90, 6.4], [0.91, 6.1], [0.92, 5.9], [0.93, 5.6], [0.94, 5.4], [0.95, 5.2], [0.96, 5.0], [0.97, 4.7],
  [0.98, 4.5], [0.99, 4.3],
  [0.425, 20.3], [0.435, 20.0], [0.445, 19.7], [0.455, 19.4], [0.465, 19.1], [0.475, 18.9], [0.485, 18.6], [0.495, 18.4],
  [0.505, 18.1], [0.515, 17.8], [0.525, 17.4], [0.535, 17.1], [0.545, 16.8], [0.555, 16.5], [0.565, 16.1], [0.575, 15.8],
  [0.585, 15.4], [0.595, 15.1], [0.605, 14.8], [0.615, 14.4], [0.625, 14.1], [0.635, 13.7], [0.645, 13.4], [0.655, 13.1],
  [0.665, 12.7], [0.675, 12.4], [0.685, 12.0], [0.695, 11.7], [0.705, 11.4], [0.715, 11.0], [0.725, 10.6], [0.735, 10.3],
  [0.745, 9.9], [0.755, 9.6], [0.765, 9.2], [0.775, 8.9], [0.785, 8.5], [0.795, 8.2], [0.805, 7.9], [0.815, 7.6],
  [0.825, 7.3], [0.835, 7.1], [0.845, 6.8], [0.855, 6.5], [0.865, 6.3], [0.875, 6.0], [0.885, 5.8], [0.895, 5.6],
  [0.905, 5.3], [0.915, 5.1], [0.925, 4.8], [0.935, 4.6], [0.945, 4.4], [0.955, 4.1], [0.965, 3.9], [0.975, 3.7],
  [0.985, 3.5], [0.995, 3.2],
];

const allSeries: Pt[][] = [
  n75,
  n100,
  n125,
  [...n150, ...n150b],
  [...n175, ...n175b],
  [...n200, ...n200b],
  [...n225, ...n225b, ...n225c],
  [...n250, ...n250b, ...n250c],
  [...n275, ...n275b, ...n275c],
  [...n300, ...n300b, ...n300c],
];

const AXIS_GRAY = '#8a8a8a';

const BottomTick = (props: any) => {
  const { x, y, payload } = props;
  const v = payload.value as number;
  const major = Math.round(v * 100) % 20 === 0;
  return (
    <g>
      <line x1={x} x2={x} y1={y} y2={y - (major ? 12 : 7)} stroke={AXIS_GRAY} strokeWidth={1.5} />
      {major && (
        <text x={x} y={y + 38} textAnchor="middle" fontFamily="'Open Sans', sans-serif" fontSize={30} fill="#6b6b6b">
          {v.toFixed(1)}
        </text>
      )}
    </g>
  );
};

const TopTick = (props: any) => {
  const { x, y, payload } = props;
  const v = payload.value as number;
  const major = Math.round(v * 100) % 20 === 0;
  return <line x1={x} x2={x} y1={y} y2={y + (major ? 12 : 7)} stroke={AXIS_GRAY} strokeWidth={1.5} />;
};

const ArrowShape = (p: any) => {
  const { x1, y1, x2, y2 } = p;
  const dx = x2 - x1;
  const dy = y2 - y1;
  const len = Math.hypot(dx, dy) || 1;
  const ux = dx / len;
  const uy = dy / len;
  const nx = -uy;
  const ny = ux;
  const hw = 10;
  const headLen = 22;
  const headHw = 21;
  const bx = x2 - ux * headLen;
  const by = y2 - uy * headLen;
  const pts = [
    [x1 + nx * hw, y1 + ny * hw],
    [bx + nx * hw, by + ny * hw],
    [bx + nx * headHw, by + ny * headHw],
    [x2, y2],
    [bx - nx * headHw, by - ny * headHw],
    [bx - nx * hw, by - ny * hw],
    [x1 - nx * hw, y1 - ny * hw],
  ];
  return <polygon points={pts.map((q) => q.join(',')).join(' ')} fill="#d4d4d4" fillOpacity={0.5} />;
};

const dot = (color: string) => (props: any) => <circle cx={props.cx} cy={props.cy} r={3.9} fill={color} />;

export default function App() {
  return (
    <div style={{ position: 'absolute', left: 0, top: 0, width: 1135, height: 809, background: '#fff' }}>
      <ScatterChart width={1135} height={809} margin={{ top: 0, right: 5, bottom: 0, left: 8 }}>
        <XAxis
          type="number"
          dataKey="x"
          domain={xDomain}
          ticks={xTicks}
          interval={0}
          allowDataOverflow
          height={117}
          tickSize={0}
          tickMargin={0}
          tickLine={false}
          axisLine={{ stroke: AXIS_GRAY, strokeWidth: 1.6 }}
          tick={<BottomTick />}
        />
        <XAxis
          xAxisId="top"
          orientation="top"
          type="number"
          dataKey="x"
          domain={xDomain}
          ticks={xTicks}
          interval={0}
          allowDataOverflow
          height={0}
          tickSize={0}
          tickMargin={0}
          tickLine={false}
          axisLine={false}
          tick={<TopTick />}
        />
        <YAxis
          type="number"
          dataKey="y"
          domain={yDomain}
          allowDataOverflow
          width={0}
          tick={false}
          tickLine={false}
          axisLine={{ stroke: AXIS_GRAY, strokeWidth: 1.6 }}
        />
        <YAxis
          yAxisId="right"
          orientation="right"
          type="number"
          dataKey="y"
          domain={yDomain}
          allowDataOverflow
          width={0}
          tick={false}
          tickLine={false}
          axisLine={{ stroke: AXIS_GRAY, strokeWidth: 1.6 }}
        />
        {allSeries.map((s, i) => (
          <Scatter
            key={seriesNames[i]}
            name={seriesNames[i]}
            data={s.map(([x, y]) => ({ x, y }))}
            fill={colors[i]}
            shape={dot(colors[i])}
            isAnimationActive={false}
          />
        ))}
        <ReferenceLine
          segment={[
            { x: arrowTail[0], y: arrowTail[1] },
            { x: arrowTip[0], y: arrowTip[1] },
          ]}
          ifOverflow="visible"
          shape={ArrowShape}
          zIndex={1500}
        />
      </ScatterChart>
      <svg width={1135} height={809} style={{ position: 'absolute', left: 0, top: 0, pointerEvents: 'none' }}>
        <line x1={7} x2={1131} y1={736.5} y2={736.5} stroke="#c8c8c8" strokeWidth={1.2} />
        <text x={568} y={797} textAnchor="middle" fontFamily="'Open Sans', sans-serif" fontSize={35} fill="#111">
          scaled entropy of data partition
        </text>
        <text x={748} y={50} textAnchor="middle" fontFamily="'Liberation Serif', serif" fontSize={42} style={{ wordSpacing: 7 }}>
          <tspan fontStyle="italic">n</tspan> = 75
        </text>
        <text x={427} y={644} textAnchor="middle" fontFamily="'Liberation Serif', serif" fontSize={42} style={{ wordSpacing: 7 }}>
          <tspan fontStyle="italic">n</tspan> = 300
        </text>
      </svg>
    </div>
  );
}
